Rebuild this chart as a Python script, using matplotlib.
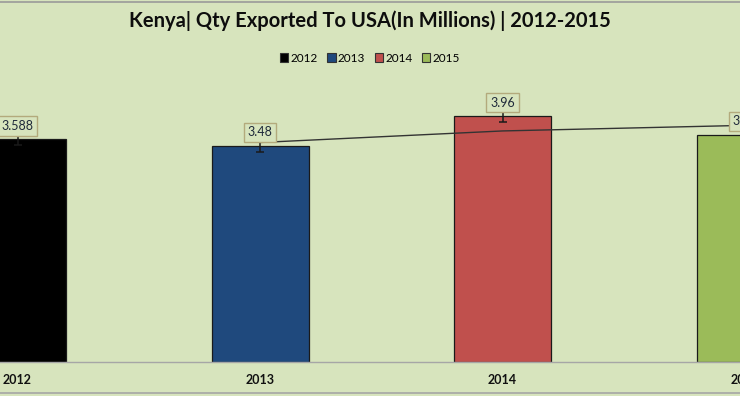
import matplotlib
matplotlib.use("Agg")
import matplotlib.pyplot as plt
from matplotlib.lines import Line2D
import numpy as np

years = ["2012", "2013", "2014", "2015"]
values = [3.588, 3.48, 3.96, 3.66]
colors = ["#000000", "#1f497d", "#c0504d", "#9bbb59"]
err = 0.1
title = "Kenya| Qty Exported To USA(In Millions) | 2012-2015"

plt.rcParams["font.family"] = ["Lato", "DejaVu Sans"]

bg = "#d7e4bd"
fig = plt.figure(figsize=(7.4, 3.96), dpi=100, facecolor=bg)
W, H = 740, 396
ax = fig.add_axes([-100 / W, (H - 362) / H, 940 / W, (362 - 82.5) / H])
ax.set_facecolor(bg)

x = np.arange(len(years))
ax.bar(x, values, width=0.4, color=colors, edgecolor="#1a1a1a", linewidth=0.9, zorder=2)
ax.errorbar(x, values, yerr=err, fmt="none", ecolor="#1a1a1a", elinewidth=1.1,
            capsize=2.6, capthick=1.1, zorder=3)

ma = [(values[i - 1] + values[i]) / 2 for i in range(1, len(values))]
ax.plot(x[1:], ma, color="#333333", linewidth=1.0, zorder=4)

for xi, v in zip(x, values):
    ax.text(xi, v + 0.215, f"{v:g}", ha="center", va="center", fontsize=9,
            color="#1f2a3a", zorder=5,
            bbox=dict(boxstyle="square,pad=0.3", fc=bg, ec="#b3aa7c", lw=1.0))

ax.set_xlim((-100 - 17.5) / 242.5, (840 - 17.5) / 242.5)
ax.set_ylim(0, 4.5)
ax.set_xticks(x)
ax.set_xticklabels(years, fontweight="bold", fontsize=9, color="#111111")
ax.tick_params(axis="x", length=0, pad=9)
ax.set_yticks([])
for s in ["top", "left", "right"]:
    ax.spines[s].set_visible(False)
ax.spines["bottom"].set_color("#a6a6a6")
ax.spines["bottom"].set_linewidth(1.0)

fig.text(0.5, 1 - 21 / H, title, ha="center", va="center", fontsize=14.5,
         fontweight="bold", color="#0d0d0d")

handles = [plt.Rectangle((0, 0), 1, 1, fc=c, ec="#333333", lw=0.8) for c in colors]
fig.legend(handles, years, loc="center", bbox_to_anchor=(0.5, 1 - 58 / H), ncol=4,
           frameon=False, fontsize=8.5, handlelength=0.7, handleheight=0.9,
           handletextpad=0.2, columnspacing=0.8)

fig.add_artist(Line2D([0, 1], [1 - 1.5 / H, 1 - 1.5 / H], color="#9a9a9a", lw=1.2))
fig.add_artist(Line2D([0, 1], [1 - 393 / H, 1 - 393 / H], color="#a6a6a6", lw=1.2))

fig.savefig("out.png", dpi=100, facecolor=bg)
